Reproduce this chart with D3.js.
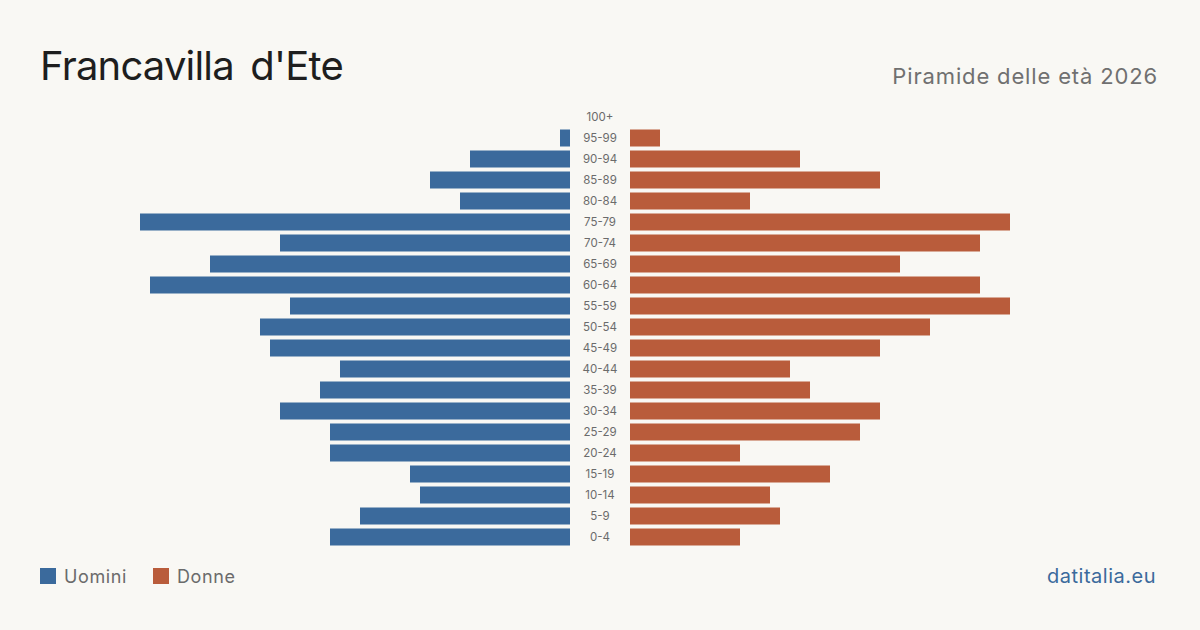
<!DOCTYPE html>
<html>
<head>
<meta charset="utf-8">
<script src="https://cdn.jsdelivr.net/npm/d3@7"></script>
<style>
  html, body { margin: 0; padding: 0; background: #f9f8f4; }
  svg { display: block; font-family: Inter, "Noto Sans", sans-serif; }
</style>
</head>
<body>
<div id="chart"></div>
<script>
// Fasce d'età, dall'alto verso il basso
const ageGroups = ["100+", "95-99", "90-94", "85-89", "80-84", "75-79", "70-74", "65-69", "60-64", "55-59",
  "50-54", "45-49", "40-44", "35-39", "30-34", "25-29", "20-24", "15-19", "10-14", "5-9", "0-4"];
const uomini = [0, 1, 10, 14, 11, 43, 29, 36, 42, 28, 31, 30, 23, 25, 29, 24, 24, 16, 15, 21, 24];
const donne = [0, 3, 17, 25, 12, 38, 35, 27, 35, 38, 30, 25, 16, 18, 25, 23, 11, 20, 14, 15, 11];

const width = 1200, height = 630;
const blue = "#3b6a9c", orange = "#b95c3b";

const svg = d3.select("#chart").append("svg").attr("width", width).attr("height", height);
svg.append("rect").attr("width", width).attr("height", height).attr("fill", "#f9f8f4");

// Scale
const maxVal = d3.max(uomini.concat(donne));
const yScale = d3.scaleBand().domain(ageGroups).range([106.5, 547.5]).paddingInner(4 / 21).paddingOuter(2 / 21);
const xLeft = d3.scaleLinear().domain([0, maxVal]).range([570, 140]);
const xRight = d3.scaleLinear().domain([0, maxVal]).range([630, 1060]);

// Barre uomini
svg.selectAll("rect.uomini")
  .data(ageGroups)
  .enter()
  .append("rect")
  .attr("class", "uomini")
  .attr("x", (d, i) => xLeft(uomini[i]))
  .attr("y", d => yScale(d))
  .attr("width", (d, i) => xLeft(0) - xLeft(uomini[i]))
  .attr("height", yScale.bandwidth())
  .attr("fill", blue);

// Barre donne
svg.selectAll("rect.donne")
  .data(ageGroups)
  .enter()
  .append("rect")
  .attr("class", "donne")
  .attr("x", xRight(0))
  .attr("y", d => yScale(d))
  .attr("width", (d, i) => xRight(donne[i]) - xRight(0))
  .attr("height", yScale.bandwidth())
  .attr("fill", orange);

// Etichette età
svg.selectAll("text.age")
  .data(ageGroups)
  .enter()
  .append("text")
  .attr("class", "age")
  .attr("x", 600)
  .attr("y", d => yScale(d) + yScale.bandwidth() / 2)
  .attr("dy", "0.35em")
  .attr("text-anchor", "middle")
  .attr("font-size", "11.5px")
  .attr("fill", "#6b6b6b")
  .text(d => d);

// Titolo
svg.append("text")
  .attr("x", 40).attr("y", 80)
  .attr("font-size", "40px")
  .attr("letter-spacing", "-0.8px")
  .attr("word-spacing", "6px")
  .attr("fill", "#1e1e1e")
  .text("Francavilla d'Ete");

svg.append("text")
  .attr("x", 1158).attr("y", 84)
  .attr("text-anchor", "end")
  .attr("font-size", "22px")
  .attr("letter-spacing", "0.85px")
  .attr("fill", "#707070")
  .text("Piramide delle età 2026");

// Legenda
const legend = [{ label: "Uomini", color: blue, x: 40 }, { label: "Donne", color: orange, x: 153 }];
legend.forEach(l => {
  svg.append("rect").attr("x", l.x).attr("y", 568).attr("width", 16).attr("height", 16).attr("fill", l.color);
  svg.append("text").attr("x", l.x + 24).attr("y", 583)
    .attr("font-size", "18px").attr("letter-spacing", "0.6px").attr("fill", "#6b6b6b").text(l.label);
});

svg.append("text")
  .attr("x", 1156).attr("y", 583)
  .attr("text-anchor", "end")
  .attr("font-size", "20px")
  .attr("letter-spacing", "0.5px")
  .attr("fill", blue)
  .text("datitalia.eu");
</script>
</body>
</html>
